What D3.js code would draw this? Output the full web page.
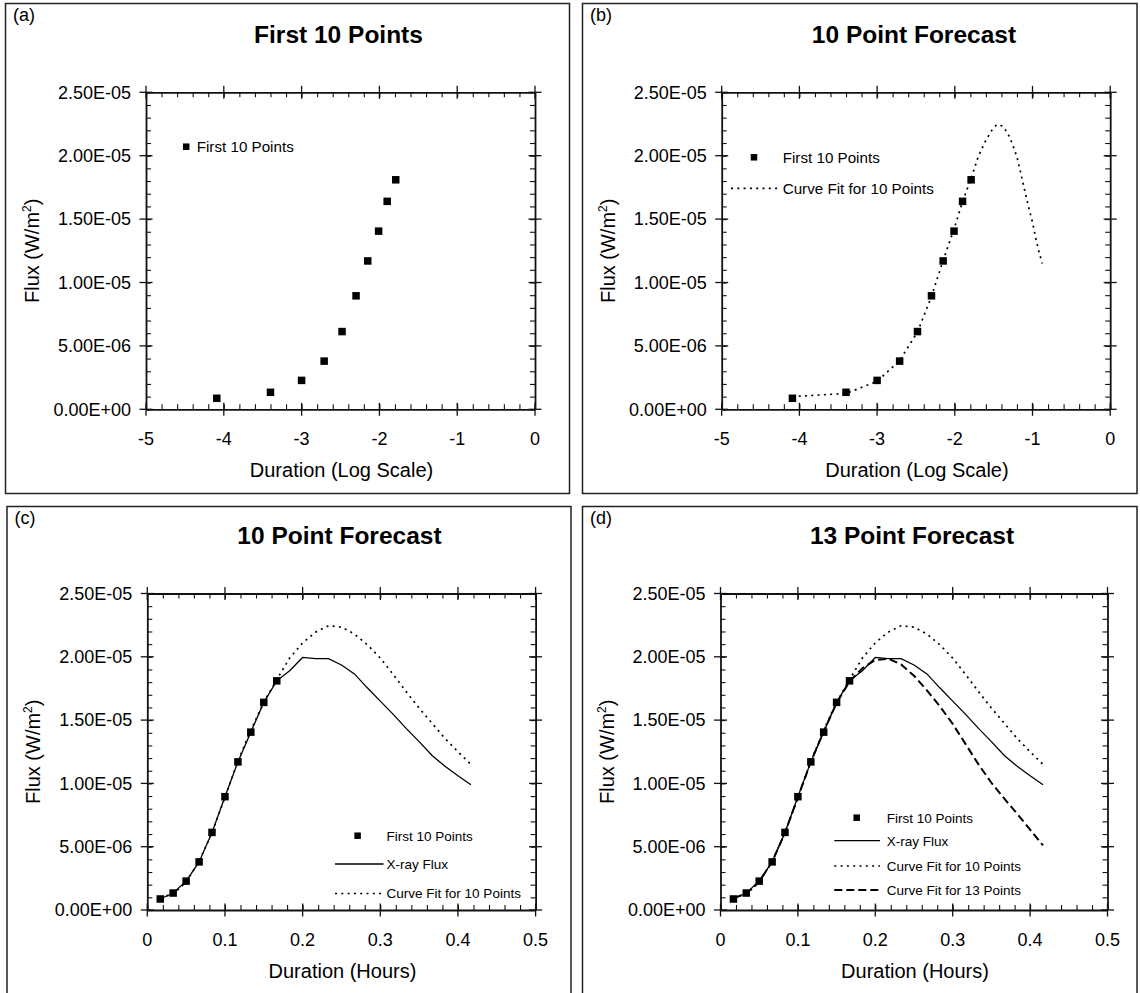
<!DOCTYPE html>
<html>
<head>
<meta charset="utf-8">
<script src="https://cdn.jsdelivr.net/npm/d3@7"></script>
<style>
  html, body { margin: 0; padding: 0; background: #fff; }
  svg { display: block; font-family: "Liberation Sans", Arial, sans-serif; }
</style>
</head>
<body>
<svg id="chart" width="1140" height="993"></svg>
<script>
// ---------------- DATA ----------------
// Duration in hours (one-minute cadence)
const hours = [0.0167, 0.0333, 0.05, 0.0667, 0.0833, 0.1, 0.1167, 0.1333, 0.15, 0.1667,
               0.1833, 0.2, 0.2167, 0.2333, 0.25, 0.2667, 0.2833, 0.3, 0.3167, 0.3333,
               0.35, 0.3667, 0.3833, 0.4, 0.4167];
// Duration on the log scale (natural log of hours)
const logDuration = [-4.09, -3.40, -3.00, -2.71, -2.48, -2.30, -2.15, -2.01, -1.90, -1.79,
                     -1.70, -1.61, -1.53, -1.46, -1.39, -1.32, -1.26, -1.20, -1.15, -1.10,
                     -1.05, -1.00, -0.96, -0.92, -0.875];
// First 10 measured points (W/m^2)
const first10Flux = [0.87e-6, 1.34e-6, 2.28e-6, 3.80e-6, 6.13e-6, 8.95e-6, 11.70e-6, 14.05e-6, 16.40e-6, 18.10e-6];
// Measured X-ray flux (W/m^2)
const xrayFlux = [0.87e-6, 1.34e-6, 2.28e-6, 3.80e-6, 6.13e-6, 8.95e-6, 11.70e-6, 14.05e-6, 16.40e-6, 18.10e-6,
                  18.90e-6, 19.95e-6, 19.85e-6, 19.85e-6, 19.35e-6, 18.65e-6, 17.55e-6, 16.50e-6, 15.45e-6, 14.35e-6,
                  13.30e-6, 12.20e-6, 11.35e-6, 10.60e-6, 9.90e-6];
// Curve fit using 10 points
const fit10Flux = [1.00e-6, 1.25e-6, 2.20e-6, 3.85e-6, 6.10e-6, 8.90e-6, 11.75e-6, 14.20e-6, 16.40e-6, 18.20e-6,
                   19.90e-6, 21.10e-6, 21.95e-6, 22.45e-6, 22.35e-6, 21.80e-6, 20.95e-6, 19.90e-6, 18.60e-6, 17.25e-6,
                   15.95e-6, 14.75e-6, 13.55e-6, 12.50e-6, 11.50e-6];
// Curve fit using 13 points
const fit13Flux = [0.95e-6, 1.30e-6, 2.25e-6, 3.80e-6, 6.10e-6, 8.90e-6, 11.70e-6, 14.10e-6, 16.35e-6, 18.05e-6,
                   19.10e-6, 19.75e-6, 19.85e-6, 19.40e-6, 18.50e-6, 17.35e-6, 16.10e-6, 14.70e-6, 13.10e-6, 11.50e-6,
                   10.05e-6, 8.80e-6, 7.60e-6, 6.35e-6, 5.10e-6];

// Tick labels
const yTicks = [0, 5e-6, 1e-5, 1.5e-5, 2e-5, 2.5e-5];
const logTicks = [-5, -4, -3, -2, -1, 0];
const hourTicks = [0, 0.1, 0.2, 0.3, 0.4, 0.5];

const titles = ["First 10 Points", "10 Point Forecast", "10 Point Forecast", "13 Point Forecast"];
const panelLabels = ["(a)", "(b)", "(c)", "(d)"];
const xTitles = ["Duration (Log Scale)", "Duration (Log Scale)", "Duration (Hours)", "Duration (Hours)"];
const seriesNames = ["First 10 Points", "X-ray Flux", "Curve Fit for 10 Points", "Curve Fit for 13 Points"];

// ---------------- DRAWING ----------------
const svg = d3.select("#chart");

function fmtE(v) {
  if (v === 0) return "0.00E+00";
  const exp = Math.floor(Math.log10(Math.abs(v)) + 1e-9);
  const man = v / Math.pow(10, exp);
  const sign = exp < 0 ? "-" : "+";
  const e = String(Math.abs(exp)).padStart(2, "0");
  return man.toFixed(2) + "E" + sign + e;
}

const styles = {
  solid: { dash: null, width: 1.3 },
  dotted: { dash: "2,4.3", width: 1.7 },
  dashed: { dash: "8,4", width: 2 }
};

function drawPanel(cfg) {
  const g = svg.append("g");
  // panel frame
  g.append("rect")
    .attr("x", cfg.box[0]).attr("y", cfg.box[1])
    .attr("width", cfg.box[2]).attr("height", cfg.box[3])
    .attr("fill", "none").attr("stroke", "#222").attr("stroke-width", 1.5);

  const p = cfg.plot;
  const x = d3.scaleLinear().domain(cfg.xDomain).range([p.l, p.r]);
  const y = d3.scaleLinear().domain([0, 2.5e-5]).range([p.b, p.t]);

  // panel label and title
  g.append("text").attr("x", cfg.box[0] + 7.5).attr("y", cfg.box[1] + 17.5)
    .attr("font-size", 18).text(cfg.label);
  g.append("text").attr("x", (p.l + p.r) / 2 - 2).attr("y", p.t - 49.6)
    .attr("text-anchor", "middle").attr("font-size", 24.5).attr("font-weight", "bold")
    .text(cfg.title);

  // minor ticks (inside), all four sides
  const xMinor = d3.range(cfg.xDomain[0], cfg.xDomain[1] + 1e-9, cfg.xMinorStep);
  const yMinor = d3.range(0, 2.5e-5 + 1e-12, 1e-6);
  const axisColor = "#111";

  const bottom = d3.axisBottom(x).tickValues(xMinor).tickSize(-5).tickFormat("");
  const top = d3.axisTop(x).tickValues(xMinor).tickSize(-5).tickFormat("");
  const left = d3.axisLeft(y).tickValues(yMinor).tickSize(-5).tickFormat("");
  const right = d3.axisRight(y).tickValues(yMinor).tickSize(-5).tickFormat("");
  const axes = [
    [bottom, `translate(0,${p.b})`],
    [top, `translate(0,${p.t})`],
    [left, `translate(${p.l},0)`],
    [right, `translate(${p.r},0)`]
  ];
  axes.forEach(([ax, tr]) => {
    const a = g.append("g").attr("transform", tr).call(ax.tickSizeOuter(0));
    a.select(".domain").attr("stroke", axisColor).attr("stroke-width", 1.8);
    a.selectAll(".tick line").attr("stroke", axisColor).attr("stroke-width", 1.1);
  });

  // major ticks crossing the axis lines
  const maj = 6.5;
  [p.b, p.t].forEach(yy => {
    g.selectAll(null).data(cfg.xTicks).enter().append("line")
      .attr("x1", d => x(d)).attr("x2", d => x(d))
      .attr("y1", yy - maj).attr("y2", yy + maj)
      .attr("stroke", axisColor).attr("stroke-width", 1.3);
  });
  [p.l, p.r].forEach(xx => {
    g.selectAll(null).data(yTicks).enter().append("line")
      .attr("y1", d => y(d)).attr("y2", d => y(d))
      .attr("x1", xx - maj).attr("x2", xx + maj)
      .attr("stroke", axisColor).attr("stroke-width", 1.3);
  });

  // tick labels
  g.selectAll(null).data(cfg.xTicks).enter().append("text")
    .attr("x", d => x(d)).attr("y", p.b + 35.5)
    .attr("text-anchor", "middle").attr("font-size", 18)
    .text(d => String(d));
  g.selectAll(null).data(yTicks).enter().append("text")
    .attr("x", p.l - 15).attr("y", d => y(d) + 6.3)
    .attr("text-anchor", "end").attr("font-size", 18)
    .text(d => fmtE(d));

  // axis titles
  g.append("text").attr("x", (p.l + p.r) / 2 + 1).attr("y", p.b + 68)
    .attr("text-anchor", "middle").attr("font-size", 20).text(cfg.xTitle);
  const yt = g.append("text")
    .attr("transform", `translate(${p.l - 107},${(p.t + p.b) / 2}) rotate(-90)`)
    .attr("text-anchor", "middle").attr("font-size", 20);
  yt.append("tspan").text("Flux (W/m");
  yt.append("tspan").attr("font-size", 12).attr("dy", -8).text("2");
  yt.append("tspan").attr("dy", 8).text(")");

  // lines
  const xs = cfg.xValues;
  cfg.lines.forEach(ln => {
    const pts = ln.values.map((v, i) => [xs[i], v]);
    const gen = d3.line().x(d => x(d[0])).y(d => y(d[1]));
    const st = styles[ln.style];
    g.append("path").attr("d", gen(pts))
      .attr("fill", "none").attr("stroke", "#000")
      .attr("stroke-width", st.width)
      .attr("stroke-dasharray", st.dash);
  });

  // points
  const ms = 7.5;
  g.selectAll(null).data(first10Flux).enter().append("rect")
    .attr("x", (d, i) => x(xs[i]) - ms / 2)
    .attr("y", d => y(d) - ms / 2)
    .attr("width", ms).attr("height", ms).attr("fill", "#000");

  // legend
  const L = cfg.legend;
  const lms = 6.5;
  g.append("rect").attr("x", L.mx - lms / 2).attr("y", L.rows[0] - lms / 2)
    .attr("width", lms).attr("height", lms).attr("fill", "#000");
  g.append("text").attr("x", L.tx).attr("y", L.rows[0]).attr("dy", "0.36em")
    .attr("font-size", L.fs).text(seriesNames[0]);
  L.items.forEach((it, k) => {
    const yy = L.rows[k + 1];
    const st = styles[it.style];
    g.append("line").attr("x1", L.lx1).attr("x2", L.lx2).attr("y1", yy).attr("y2", yy)
      .attr("stroke", "#000").attr("stroke-width", st.width).attr("stroke-dasharray", st.dash);
    g.append("text").attr("x", L.tx).attr("y", yy).attr("dy", "0.36em")
      .attr("font-size", L.fs).text(seriesNames[it.name]);
  });
}

drawPanel({
  box: [5.5, 3.5, 564, 490], plot: { l: 146, r: 535, t: 92.3, b: 409.3 },
  xDomain: [-5, 0], xTicks: logTicks, xMinorStep: 0.2, xValues: logDuration,
  label: panelLabels[0], title: titles[0], xTitle: xTitles[0],
  lines: [],
  legend: { mx: 186.2, tx: 196.7, fs: 15.2, rows: [146.7], items: [] }
});
drawPanel({
  box: [582.5, 3.5, 554.5, 490], plot: { l: 721.7, r: 1110.2, t: 92.3, b: 409.3 },
  xDomain: [-5, 0], xTicks: logTicks, xMinorStep: 0.2, xValues: logDuration,
  label: panelLabels[1], title: titles[1], xTitle: xTitles[1],
  lines: [{ values: fit10Flux, style: "dotted" }],
  legend: { mx: 754, tx: 782.7, lx1: 731, lx2: 780, fs: 15.2, rows: [157.3, 188.3],
            items: [{ style: "dotted", name: 2 }] }
});
drawPanel({
  box: [7, 506.5, 564, 500], plot: { l: 147.3, r: 535.6, t: 593.5, b: 910 },
  xDomain: [0, 0.5], xTicks: hourTicks, xMinorStep: 0.02, xValues: hours,
  label: panelLabels[2], title: titles[2], xTitle: xTitles[2],
  lines: [{ values: xrayFlux, style: "solid" }, { values: fit10Flux, style: "dotted" }],
  legend: { mx: 357.6, tx: 386.6, lx1: 335, lx2: 383.5, fs: 13.5, rows: [835.7, 864, 893.5],
            items: [{ style: "solid", name: 1 }, { style: "dotted", name: 2 }] }
});
drawPanel({
  box: [582.5, 506.5, 554.5, 500], plot: { l: 720.5, r: 1107.5, t: 593.5, b: 910 },
  xDomain: [0, 0.5], xTicks: hourTicks, xMinorStep: 0.02, xValues: hours,
  label: panelLabels[3], title: titles[3], xTitle: xTitles[3],
  lines: [{ values: xrayFlux, style: "solid" }, { values: fit10Flux, style: "dotted" },
          { values: fit13Flux, style: "dashed" }],
  legend: { mx: 856.7, tx: 886.7, lx1: 834.3, lx2: 880, fs: 13.5, rows: [817.7, 840.7, 866, 890],
            items: [{ style: "solid", name: 1 }, { style: "dotted", name: 2 }, { style: "dashed", name: 3 }] }
});
</script>
</body>
</html>
